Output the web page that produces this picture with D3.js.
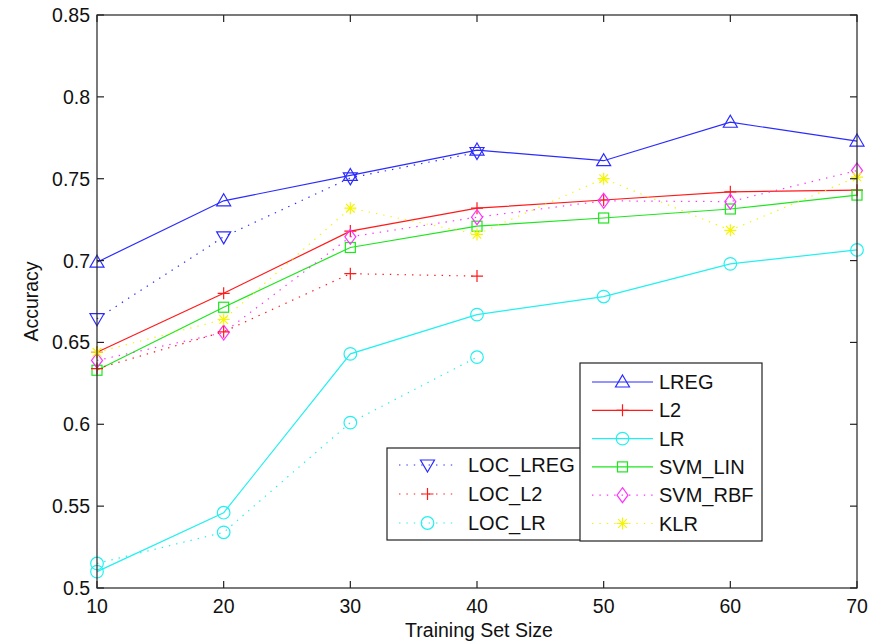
<!DOCTYPE html>
<html>
<head>
<meta charset="utf-8">
<script src="https://cdn.jsdelivr.net/npm/d3@7"></script>
<style>
  body { margin: 0; background: #fff; }
  text { font-family: "Liberation Sans", Arial, sans-serif; fill: #111; }
</style>
</head>
<body>
<script>
// accuracy vs training set size
const sizes = [10, 20, 30, 40, 50, 60, 70];
const locSizes = [10, 20, 30, 40];

const lreg   = [0.699, 0.7365, 0.752, 0.7675, 0.761, 0.7845, 0.773];
const l2     = [0.644, 0.680, 0.718, 0.732, 0.737, 0.742, 0.743];
const lr     = [0.510, 0.546, 0.643, 0.667, 0.678, 0.698, 0.7065];
const svmLin = [0.633, 0.6715, 0.708, 0.721, 0.726, 0.7315, 0.740];
const svmRbf = [0.639, 0.656, 0.7145, 0.7265, 0.7365, 0.736, 0.755];
const klr    = [0.644, 0.664, 0.732, 0.716, 0.750, 0.7185, 0.751];

const locLreg = [0.6645, 0.7145, 0.7505, 0.766];
const locL2   = [0.634, 0.6565, 0.692, 0.6905];
const locLr   = [0.515, 0.534, 0.601, 0.641];

const xTicks = [10, 20, 30, 40, 50, 60, 70];
const yTicks = [0.5, 0.55, 0.6, 0.65, 0.7, 0.75, 0.8, 0.85];

const series = [
    { name: "LREG",     xs: sizes,    ys: lreg,    color: "#2b2bff", dash: null, marker: "triUp" },
    { name: "L2",       xs: sizes,    ys: l2,      color: "#ff1a1a", dash: null, marker: "plus" },
    { name: "LR",       xs: sizes,    ys: lr,      color: "#22f0f0", dash: null, marker: "circle" },
    { name: "SVM_LIN",  xs: sizes,    ys: svmLin,  color: "#1ee61e", dash: null, marker: "square" },
    { name: "SVM_RBF",  xs: sizes,    ys: svmRbf,  color: "#ff33ff", dash: "1.4,6", marker: "diamond" },
    { name: "KLR",      xs: sizes,    ys: klr,     color: "#f5f500", dash: "1.4,6", marker: "star" },
    { name: "LOC_LREG", xs: locSizes, ys: locLreg, color: "#2b2bff", dash: "1.4,6", marker: "triDown" },
    { name: "LOC_L2",   xs: locSizes, ys: locL2,   color: "#ff1a1a", dash: "1.4,6", marker: "plus" },
    { name: "LOC_LR",   xs: locSizes, ys: locLr,   color: "#22f0f0", dash: "1.4,6", marker: "circle" },
];

const W = 882, H = 641;
const m = { left: 97, right: 25, top: 15, bottom: 53 };
const FS = 19.5;

const svg = d3.select("body").append("svg").attr("width", W).attr("height", H);

const x = d3.scaleLinear().domain([10, 70]).range([m.left, W - m.right]);
const y = d3.scaleLinear().domain([0.5, 0.85]).range([H - m.bottom, m.top]);

// ── marker shapes ──────────────────────────────────────────────────────
function drawMarker(g, type, cx, cy, color) {
    const s = g.append("g").attr("transform", `translate(${cx},${cy})`)
        .attr("fill", "none").attr("stroke", color).attr("stroke-width", 1.2);
    if (type === "triUp") s.append("path").attr("d", "M0,-7L7,5L-7,5Z");
    else if (type === "triDown") s.append("path").attr("d", "M0,7L7,-5L-7,-5Z");
    else if (type === "circle") s.append("circle").attr("r", 6.3);
    else if (type === "square") s.append("rect").attr("x", -5).attr("y", -5).attr("width", 10).attr("height", 10);
    else if (type === "diamond") s.append("path").attr("d", "M0,-7.5L5.5,0L0,7.5L-5.5,0Z");
    else if (type === "plus") s.append("path").attr("d", "M-6,0H6M0,-6V6");
    else if (type === "star") s.append("path").attr("d", "M-6,0H6M0,-6V6M-4.3,-4.3L4.3,4.3M-4.3,4.3L4.3,-4.3");
}

// ── data lines ─────────────────────────────────────────────────────────
const plot = svg.append("g");
const line = d3.line().x(d => x(d[0])).y(d => y(d[1]));

series.forEach(s => {
    const pts = s.xs.map((v, i) => [v, s.ys[i]]);
    plot.append("path")
        .datum(pts)
        .attr("d", line)
        .attr("fill", "none")
        .attr("stroke", s.color)
        .attr("stroke-width", 1.2)
        .attr("stroke-dasharray", s.dash);
    pts.forEach(p => drawMarker(plot, s.marker, x(p[0]), y(p[1]), s.color));
});

// ── axes (box with inward ticks) ───────────────────────────────────────
const axisColor = "#222";
const x0 = m.left, x1 = W - m.right, y0 = H - m.bottom, y1 = m.top;
const axes = svg.append("g").attr("stroke", axisColor).attr("stroke-width", 1.2);
axes.append("rect").attr("x", x0).attr("y", y1).attr("width", x1 - x0).attr("height", y0 - y1).attr("fill", "none");

xTicks.forEach(t => {
    axes.append("line").attr("x1", x(t)).attr("x2", x(t)).attr("y1", y0).attr("y2", y0 - 7);
    axes.append("line").attr("x1", x(t)).attr("x2", x(t)).attr("y1", y1).attr("y2", y1 + 7);
    svg.append("text").attr("x", x(t)).attr("y", y0 + 25)
        .attr("text-anchor", "middle").attr("font-size", FS).text(t);
});
yTicks.forEach(t => {
    axes.append("line").attr("x1", x0).attr("x2", x0 + 7).attr("y1", y(t)).attr("y2", y(t));
    axes.append("line").attr("x1", x1).attr("x2", x1 - 7).attr("y1", y(t)).attr("y2", y(t));
    svg.append("text").attr("x", x0 - 7).attr("y", y(t) + 7)
        .attr("text-anchor", "end").attr("font-size", FS).text(d3.format(".2~f")(t));
});

svg.append("text").attr("x", (x0 + x1) / 2 + 2).attr("y", 637)
    .attr("text-anchor", "middle").attr("font-size", FS).text("Training Set Size");
svg.append("text").attr("transform", `translate(38,${(y0 + y1) / 2}) rotate(-90)`)
    .attr("text-anchor", "middle").attr("font-size", FS).text("Accuracy");

// ── legends ────────────────────────────────────────────────────────────
function legend(items, bx, by, bw, bh, rowY0, rowStep, lineX0, lineX1, textX) {
    const g = svg.append("g");
    g.append("rect").attr("x", bx).attr("y", by).attr("width", bw).attr("height", bh)
        .attr("fill", "#fff").attr("stroke", axisColor).attr("stroke-width", 1.2);
    items.forEach((s, i) => {
        const ry = rowY0 + i * rowStep;
        g.append("line").attr("x1", lineX0).attr("x2", lineX1).attr("y1", ry).attr("y2", ry)
            .attr("stroke", s.color).attr("stroke-width", 1.2).attr("stroke-dasharray", s.dash);
        drawMarker(g, s.marker, (lineX0 + lineX1) / 2, ry, s.color);
        g.append("text").attr("x", textX).attr("y", ry + 7).attr("font-size", 20).text(s.name);
    });
}
legend(series.slice(6), 387, 448, 205, 92, 465, 29, 399, 456, 468);
legend(series.slice(0, 6), 580, 363, 182, 178, 382, 28.3, 592, 653, 659);
</script>
</body>
</html>
